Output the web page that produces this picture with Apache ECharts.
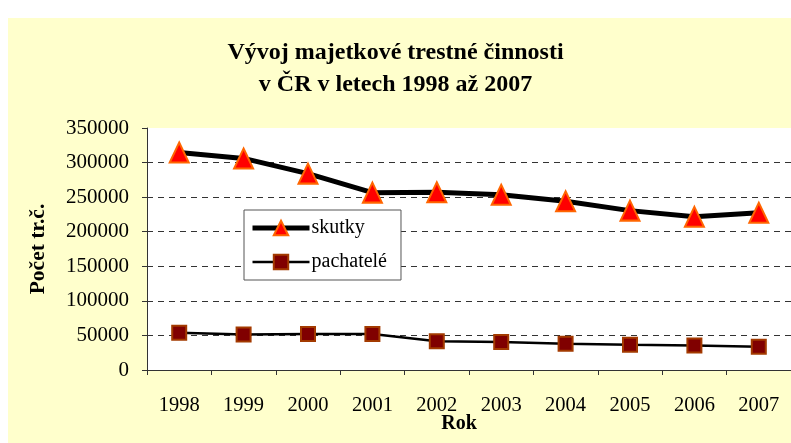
<!DOCTYPE html>
<html>
<head>
	<meta charset="utf-8">
	<title>Vývoj majetkové trestné činnosti</title>
	<script src="https://cdn.jsdelivr.net/npm/echarts@6/dist/echarts.min.js"></script>
	<style>
		body { margin: 0; background: #fff; }
	</style>
</head>
<body>
	<div id="echart" style="width: 791px; height: 443px"></div>
	<script>
		// roky a hodnoty
		var roky = ['1998', '1999', '2000', '2001', '2002', '2003', '2004', '2005', '2006', '2007'];
		var skutky = [314500, 306000, 284000, 256500, 257000, 253500, 244000, 230500, 221500, 227500];
		var pachatele = [54000, 51500, 52000, 52000, 41500, 40500, 38000, 36500, 35500, 33500];

		var serif = '"Liberation Serif", "Times New Roman", serif';
		let mychart = echarts.init(document.getElementById('echart'));
		let option = {
			animation: false,
			textStyle: { fontFamily: serif, color: '#000' },
			graphic: [{
				type: 'rect',
				z: -10,
				shape: { x: 8, y: 18, width: 783, height: 425 },
				style: { fill: '#ffffcc' }
			}],
			title: {
				text: 'Vývoj majetkové trestné činnosti\nv ČR v letech 1998 až 2007',
				left: 'center',
				top: 32,
				textStyle: { fontFamily: serif, fontSize: 24, fontWeight: 'bold', color: '#000', lineHeight: 32 }
			},
			legend: {
				orient: 'vertical',
				left: 244,
				top: 210,
				padding: [8, 14, 8, 6],
				itemGap: 14,
				itemWidth: 57,
				itemHeight: 18,
				backgroundColor: '#fff',
				borderColor: '#555',
				borderWidth: 1,
				textStyle: { fontFamily: serif, fontSize: 20, color: '#000', padding: [0, 0, 0, -3] },
				data: [
					{ name: 'skutky', lineStyle: { width: 5 } },
					{ name: 'pachatelé', lineStyle: { width: 2.5 } }
				]
			},
			grid: {
				left: 147,
				right: 0,
				top: 128,
				bottom: 73,
				containLabel: false,
				outerBoundsMode: 'none',
				show: true,
				backgroundColor: '#fff',
				borderWidth: 0
			},
			xAxis: {
				type: 'category',
				data: roky,
				boundaryGap: true,
				name: 'Rok',
				nameLocation: 'middle',
				nameGap: 54,
				nameMoveOverlap: false,
				nameTextStyle: {
					fontFamily: serif, fontSize: 20, fontWeight: 'bold', color: '#000',
					verticalAlign: 'middle', padding: [0, 20, 0, 0]
				},
				axisLine: { lineStyle: { color: '#333', width: 1 } },
				axisTick: { show: true, length: 5, lineStyle: { color: '#333' } },
				axisLabel: { fontFamily: serif, fontSize: 20.5, color: '#000', margin: 25 }
			},
			yAxis: {
				type: 'value',
				min: 0,
				max: 350000,
				interval: 50000,
				name: 'Počet tr.č.',
				nameLocation: 'middle',
				nameGap: 98,
				nameMoveOverlap: false,
				nameTextStyle: { fontFamily: serif, fontSize: 21.5, fontWeight: 'bold', color: '#000' },
				axisLine: { show: true, lineStyle: { color: '#333', width: 1 } },
				axisTick: { show: true, length: 5, lineStyle: { color: '#333' } },
				axisLabel: {
					fontFamily: serif, fontSize: 21, color: '#000', margin: 18,
					formatter: function (v) { return String(v); }
				},
				splitLine: {
					show: true,
					lineStyle: {
						type: [6, 5],
						width: 1,
						color: ['#333', '#333', '#333', '#333', '#333', '#333', '#333', 'rgba(0,0,0,0)']
					}
				}
			},
			series: [
				{
					name: 'skutky',
					type: 'line',
					data: skutky,
					symbol: 'triangle',
					symbolSize: [19, 20],
					lineStyle: { color: '#000', width: 5 },
					itemStyle: { color: '#ff0000', borderColor: '#ff6600', borderWidth: 2 },
					z: 3
				},
				{
					name: 'pachatelé',
					type: 'line',
					data: pachatele,
					symbol: 'rect',
					symbolSize: 14,
					lineStyle: { color: '#000', width: 2.5 },
					itemStyle: { color: '#800000', borderColor: '#a33a00', borderWidth: 2 },
					z: 3
				}
			]
		};
		mychart.setOption(option);
	</script>
</body>
</html>
